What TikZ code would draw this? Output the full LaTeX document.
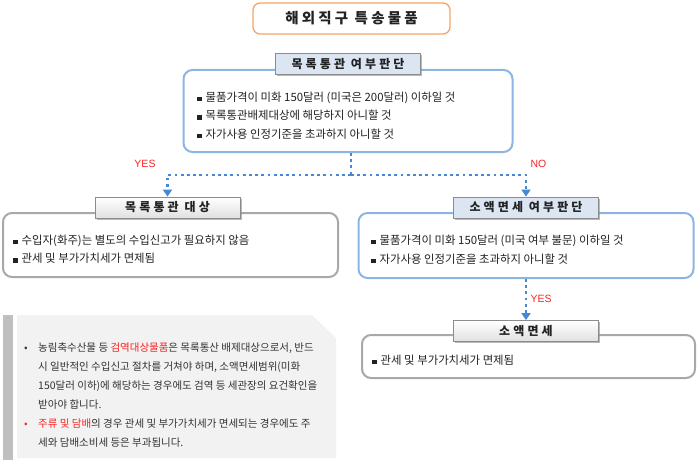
\documentclass[tikz,border=0pt]{standalone}
\usepackage{fontspec}
\setmainfont{Noto Sans CJK KR}
\newfontfamily\latfont{Liberation Sans}
\newfontfamily\hdfont[LetterSpace=26]{Noto Sans CJK KR}
\newfontfamily\ttlfont[LetterSpace=22]{Noto Sans CJK KR}
\usetikzlibrary{arrows.meta,shadows,calc}
\definecolor{bluebd}{RGB}{141,180,226}
\definecolor{graybd}{RGB}{168,168,168}
\definecolor{hdfill}{RGB}{220,230,242}
\definecolor{hdbd}{RGB}{140,140,140}
\definecolor{dotc}{RGB}{70,136,212}
\definecolor{orangebd}{RGB}{247,164,104}
\definecolor{redc}{RGB}{250,35,35}
\definecolor{txt}{RGB}{34,34,34}
\definecolor{notec}{RGB}{51,51,51}
\definecolor{notefill}{RGB}{242,242,242}
\definecolor{barc}{RGB}{191,191,191}
\newcommand\bsq{{\color{txt}\rule{4.5pt}{4.5pt}}\hspace{4pt}}
\begin{document}
\begin{tikzpicture}[x=1pt,y=-1pt,
  bluebox/.style={draw=bluebd, line width=2pt, rounded corners=9pt, fill=white, inner sep=0pt},
  graybox/.style={draw=graybd, line width=2pt, rounded corners=9pt, fill=white, inner sep=0pt},
  hdbox/.style={draw=hdbd, line width=0.8pt, minimum width=145pt, minimum height=21pt, inner sep=0pt,
    font=\hdfont\bfseries\fontsize{12}{12}\selectfont, text=txt,
    drop shadow={shadow xshift=1.5pt,shadow yshift=-1.5pt,fill=black!50,opacity=0.55}},
  hdblue/.style={hdbox, fill=hdfill},
  hdgray/.style={hdbox, top color=white, bottom color=black!12},
  body/.style={anchor=base west, inner sep=0pt, font=\fontsize{11.4}{12}\selectfont, text=txt},
  notetxt/.style={anchor=base west, inner sep=0pt, font=\fontsize{10.5}{12}\selectfont, text=notec},
  lbl/.style={inner sep=0pt, font=\latfont\fontsize{10.5}{10.5}\selectfont, text=redc},
  dots/.style={draw=dotc, line width=2.8pt, dash pattern=on 2.8pt off 3.4pt},
  tip/.style={-{Triangle[width=9pt,length=7pt,fill=dotc]}}
]
\useasboundingbox (0,0) rectangle (699,460);

% title
\node[draw=orangebd, line width=1.3pt, rounded corners=7pt, fill=white,
      minimum width=197pt, minimum height=31pt, inner sep=0pt,
      font=\ttlfont\bfseries\fontsize{14.5}{14.5}\selectfont, text=txt] (title) at (351.5,18.5) {해외직구 특송물품};

% boxes
\node[bluebox, minimum width=329pt, minimum height=82pt] (topbox) at (348,111) {};
\node[graybox, minimum width=335pt, minimum height=64pt] (lbox) at (170.5,245) {};
\node[bluebox, minimum width=335pt, minimum height=65pt] (rbox) at (526,245.5) {};
\node[graybox, minimum width=333pt, minimum height=43pt] (rsbox) at (528.5,356.5) {};

% headers
\node[hdblue] (tophd) at (348,64) {목록통관 여부판단};
\node[hdgray] (lhd) at (167.5,207.5) {목록통관 대상};
\node[hdblue] (rhd) at (526,207.5) {소액면세 여부판단};
\node[hdgray] (rshd) at (526,331) {소액면세};

% top box text
\node[body] (t1) at (197,101) {\bsq 물품가격이 미화 150달러 (미국은 200달러) 이하일 것};
\node[body] (t2) at (197,119.5) {\bsq 목록통관배제대상에 해당하지 아니할 것};
\node[body] (t3) at (197,138) {\bsq 자가사용 인정기준을 초과하지 아니할 것};

% left box text
\node[body] (l1) at (13,244) {\bsq 수입자(화주)는 별도의 수입신고가 필요하지 않음};
\node[body] (l2) at (13,262.5) {\bsq 관세 및 부가가치세가 면제됨};

% right box text
\node[body] (r1) at (371,244) {\bsq 물품가격이 미화 150달러 (미국 여부 불문) 이하일 것};
\node[body] (r2) at (371,263) {\bsq 자가사용 인정기준을 초과하지 아니할 것};

% small box text
\node[body] (s1) at (372,364) {\bsq 관세 및 부가가치세가 면제됨};

% connectors
\coordinate (j) at (351,175);
\draw[dots] (j |- topbox.south) -- (j);
\draw[dots,tip] (j) -| (lhd.north);
\draw[dots,tip] (j) -| (rhd.north);
\draw[dots,tip] (rbox.south) -- (rshd.north);

\node[lbl] (yes1) at (145,164) {YES};
\node[lbl] (no1) at (538.5,164) {NO};
\node[lbl] (yes2) at (541,299) {YES};

% note
\fill[barc] (3,315) rectangle (13,460);
\fill[notefill] (17,315) -- (312,315) -- (336,338) -- (336,458) -- (17,458) -- cycle;
\node[notetxt] (n1) at (24,351.6) {\makebox[14pt][l]{•}농림축수산물 등 {\color{redc}검역대상물품}은 목록통산 배제대상으로서, 반드};
\node[notetxt] (n2) at (38,370.6) {시 일반적인 수입신고 절차를 거쳐야 하며, 소액면세범위(미화};
\node[notetxt] (n3) at (38,389.6) {150달러 이하)에 해당하는 경우에도 검역 등 세관장의 요건확인을};
\node[notetxt] (n4) at (38,408.6) {받아야 합니다.};
\node[notetxt] (n5) at (24,427.6) {\makebox[14pt][l]{\color{redc}•}{\color{redc}주류 및 담배}의 경우 관세 및 부가가치세가 면세되는 경우에도 주};
\node[notetxt] (n6) at (38,446.6) {세와 담배소비세 등은 부과됩니다.};
\end{tikzpicture}
\end{document}
